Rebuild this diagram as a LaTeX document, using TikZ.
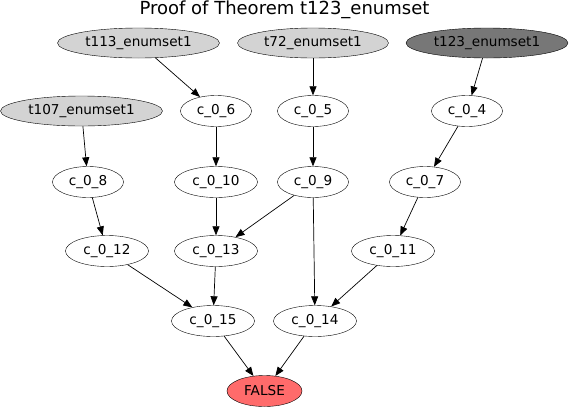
\documentclass[tikz,border=0pt]{standalone}
\usepackage{fontspec}
\setmainfont{DejaVu Sans}
\usepackage{tikz}
\usetikzlibrary{positioning, arrows.meta, shapes.geometric}
\tikzset{>={Triangle[length=9pt,width=7pt]}}
\definecolor{axiomgray}{HTML}{D3D3D3}
\definecolor{goalgray}{HTML}{777777}
\definecolor{falsered}{HTML}{FF6B6B}
\tikzset{
    clause/.style={draw, ellipse, inner sep=0pt, minimum height=31pt, minimum width=71pt, font=\fontsize{13.6}{14}\selectfont},
    wide/.style={clause, minimum width=83pt},
    axiom/.style={clause, fill=axiomgray, minimum width=162pt, minimum height=30pt},
    edge/.style={->, line width=0.7pt}
}

\begin{document}
\begin{tikzpicture}[x=1pt, y=-1pt]
    \useasboundingbox (0,0) rectangle (570,410);
    \node[font=\fontsize{18}{20}\selectfont, anchor=base] (title) at (284.5,14) {Proof of Theorem t123\_enumset};

    % axioms and conjecture
    \node[axiom] (t113) at (138.5,43) {t113\_enumset1};
    \node[axiom, minimum width=151pt] (t72) at (313,43) {t72\_enumset1};
    \node[axiom, fill=goalgray] (t123) at (487,43) {t123\_enumset1};
    \node[axiom] (t107) at (81.5,111) {t107\_enumset1};

    % clauses
    \node[clause] (c06) at (216,111) {c\_0\_6};
    \node[clause] (c05) at (313,111) {c\_0\_5};
    \node[clause] (c04) at (467,111) {c\_0\_4};
    \node[clause] (c08) at (88,182) {c\_0\_8};
    \node[wide] (c010) at (216,182) {c\_0\_10};
    \node[clause] (c09) at (313,182) {c\_0\_9};
    \node[clause] (c07) at (425,182) {c\_0\_7};
    \node[wide] (c012) at (107,251) {c\_0\_12};
    \node[wide] (c013) at (216,251) {c\_0\_13};
    \node[wide] (c011) at (393,251) {c\_0\_11};
    \node[wide] (c015) at (213,321) {c\_0\_15};
    \node[wide] (c014) at (315,321) {c\_0\_14};
    \node[clause, fill=falsered, minimum width=75pt] (false) at (264.5,391) {FALSE};

    \draw[edge] (t113) -- (c06);
    \draw[edge] (t72) -- (c05);
    \draw[edge] (t123) -- (c04);
    \draw[edge] (t107) -- (c08);
    \draw[edge] (c06) -- (c010);
    \draw[edge] (c05) -- (c09);
    \draw[edge] (c04) -- (c07);
    \draw[edge] (c08) -- (c012);
    \draw[edge] (c010) -- (c013);
    \draw[edge] (c09) -- (c013);
    \draw[edge] (c09) -- (c014);
    \draw[edge] (c07) -- (c011);
    \draw[edge] (c012) -- (c015);
    \draw[edge] (c013) -- (c015);
    \draw[edge] (c011) -- (c014);
    \draw[edge] (c015) -- (false);
    \draw[edge] (c014) -- (false);
\end{tikzpicture}
\end{document}
